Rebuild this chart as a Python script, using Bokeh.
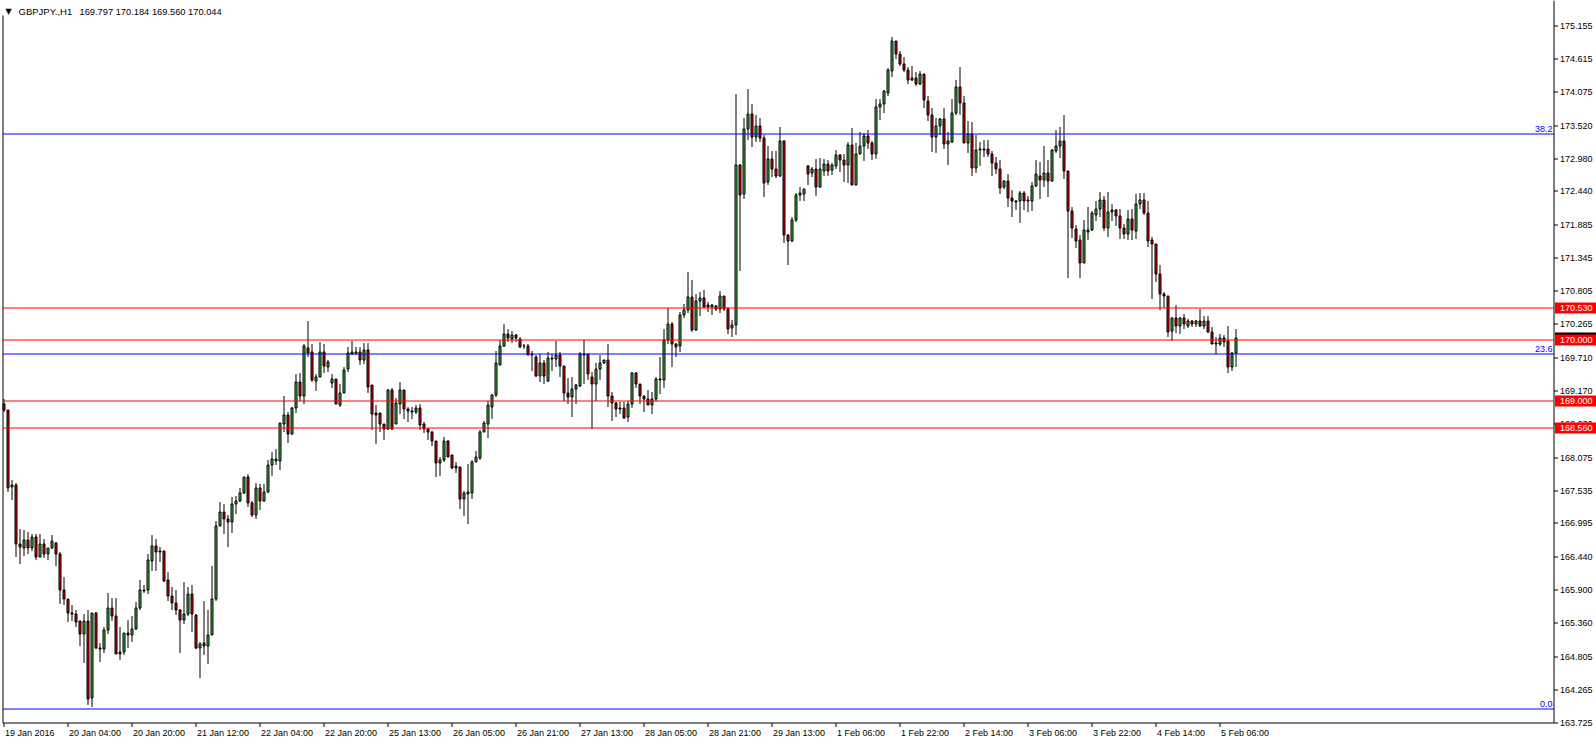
import math
from bokeh.plotting import figure
from bokeh.models import Range1d, ColumnDataSource
from bokeh.core.properties import value
from bokeh.embed import file_html
from bokeh.resources import INLINE

# ---------------- data (GBPJPY H1) ----------------
open_ = [
    168.95, 168.86, 167.60, 167.63, 166.65, 166.59, 166.73, 166.59, 166.78, 166.45,
    166.66, 166.50, 166.59, 166.68, 166.49, 165.91, 165.76, 165.53, 165.51, 165.39,
    165.18, 165.40, 164.13, 165.52, 164.96, 164.94, 165.24, 165.61, 165.48, 164.86,
    164.88, 165.20, 165.16, 165.27, 165.61, 165.91, 165.91, 166.38, 166.62, 166.55,
    166.55, 166.06, 165.81, 165.69, 165.57, 165.41, 165.51, 165.83, 165.50, 164.95,
    165.03, 164.98, 165.17, 165.76, 166.96, 167.19, 167.07, 167.02, 167.32, 167.36,
    167.50, 167.75, 167.33, 167.14, 167.58, 167.37, 167.51, 167.96, 168.02, 168.02,
    168.63, 168.77, 168.46, 168.89, 169.32, 169.09, 169.87, 169.81, 169.33, 169.39,
    169.81, 169.56, 169.30, 169.37, 168.94, 169.14, 169.53, 169.78, 169.79, 169.81,
    169.68, 169.84, 169.26, 168.80, 168.81, 168.62, 168.55, 169.19, 168.63, 168.96,
    169.19, 168.87, 168.84, 168.82, 168.89, 168.62, 168.55, 168.50, 168.35, 167.98,
    168.03, 168.34, 168.11, 167.90, 167.92, 167.39, 167.48, 167.49, 168.00, 168.07,
    168.49, 168.63, 168.91, 169.10, 169.60, 169.90, 170.10, 170.02, 170.09, 170.02,
    169.91, 169.91, 169.77, 169.73, 169.42, 169.62, 169.33, 169.71, 169.69, 169.75,
    169.58, 169.13, 169.07, 169.20, 169.25, 169.76, 169.78, 169.40, 169.29, 169.52,
    169.63, 169.67, 169.08, 168.97, 168.89, 168.89, 168.74, 168.96, 169.46, 169.28,
    169.09, 169.04, 168.94, 169.03, 169.35, 169.35, 170.01, 170.26, 169.94, 169.90,
    170.42, 170.50, 170.71, 170.16, 170.64, 170.70, 170.58, 170.54, 170.56, 170.51,
    170.73, 170.51, 170.20, 170.25, 172.88, 172.39, 173.47, 173.71, 173.34, 173.51,
    173.32, 172.59, 172.98, 172.81, 172.69, 173.27, 171.73, 171.62, 171.97, 172.38,
    172.40, 172.86, 172.75, 172.80, 172.51, 172.77, 172.89, 172.79, 172.86, 173.04,
    172.96, 172.88, 173.20, 172.55, 173.05, 173.18, 173.35, 173.24, 173.06, 173.82,
    173.88, 174.06, 174.42, 174.90, 174.70, 174.53, 174.43, 174.27, 174.30, 174.20,
    174.37, 173.93, 173.69, 173.33, 173.51, 173.63, 173.22, 173.25, 173.72, 174.16,
    173.89, 173.23, 173.38, 172.83, 173.12, 173.14, 173.14, 173.06, 172.91, 172.81,
    172.51, 172.61, 172.34, 172.29, 172.28, 172.42, 172.30, 172.29, 172.53, 172.70,
    172.62, 172.75, 172.61, 173.10, 173.18, 173.26, 172.77, 172.12, 171.83, 171.64,
    171.27, 171.78, 171.80, 172.06, 172.16, 172.30, 171.84, 172.10, 172.14, 172.03,
    171.84, 171.75, 171.99, 171.79, 172.24, 172.30, 172.08, 171.64, 171.58, 171.09,
    170.75, 170.72, 170.15, 170.36, 170.24, 170.36, 170.24, 170.32, 170.27, 170.32,
    170.23, 170.31, 170.13, 169.95, 169.93, 170.04, 169.98, 169.56, 169.797,
]
high = [
    169.04, 168.86, 167.70, 167.66, 166.90, 166.88, 166.85, 166.82, 166.82, 166.82,
    166.74, 166.60, 166.81, 166.69, 166.52, 166.12, 165.76, 165.66, 165.58, 165.40,
    165.51, 165.57, 165.52, 165.54, 165.03, 165.29, 165.85, 165.78, 165.78, 165.29,
    165.20, 165.41, 165.47, 165.70, 166.06, 165.99, 166.50, 166.80, 166.74, 166.61,
    166.55, 166.20, 165.95, 165.90, 165.59, 166.04, 165.95, 165.98, 165.51, 165.05,
    165.73, 165.58, 166.29, 167.03, 167.34, 167.32, 167.13, 167.43, 167.45, 167.58,
    167.76, 167.80, 167.37, 167.66, 167.64, 167.64, 168.04, 168.16, 168.22, 168.645,
    169.08, 168.82, 168.90, 169.45, 169.47, 169.94, 170.32, 169.94, 169.45, 169.97,
    169.94, 169.68, 169.45, 169.37, 169.29, 169.56, 169.89, 169.99, 169.89, 169.89,
    169.95, 169.95, 169.26, 168.93, 168.81, 168.63, 169.20, 169.22, 169.06, 169.32,
    169.19, 168.91, 168.90, 168.93, 168.96, 168.66, 168.56, 168.51, 168.35, 168.09,
    168.42, 168.37, 168.125, 168.00, 167.92, 167.53, 167.97, 168.04, 168.19, 168.52,
    168.68, 169.01, 169.12, 169.83, 170.00, 170.26, 170.19, 170.15, 170.10, 170.05,
    169.94, 169.94, 169.83, 169.75, 169.78, 169.67, 169.80, 169.78, 169.99, 169.80,
    169.58, 169.38, 169.39, 169.28, 169.80, 170.01, 169.78, 169.48, 169.62, 169.75,
    169.68, 169.94, 169.15, 168.98, 168.98, 168.98, 169.01, 169.48, 169.48, 169.29,
    169.09, 169.19, 169.15, 169.39, 169.72, 170.19, 170.53, 170.30, 169.95, 170.46,
    170.60, 171.12, 170.98, 170.75, 170.79, 170.83, 170.62, 170.60, 170.58, 170.80,
    170.73, 170.55, 170.33, 174.04, 172.89, 173.65, 174.12, 173.88, 173.69, 173.64,
    173.36, 173.19, 173.10, 173.10, 173.49, 173.29, 171.745, 172.02, 172.42, 172.51,
    172.48, 172.87, 172.84, 172.97, 172.99, 172.97, 172.96, 172.90, 173.12, 173.06,
    173.06, 173.25, 173.48, 173.23, 173.42, 173.40, 173.45, 173.27, 173.96, 173.96,
    174.11, 174.46, 174.97, 174.90, 174.74, 174.64, 174.48, 174.49, 174.40, 174.41,
    174.37, 174.00, 173.81, 173.65, 173.65, 173.81, 173.41, 173.96, 174.26, 174.48,
    174.01, 173.60, 173.58, 173.36, 173.25, 173.29, 173.28, 173.10, 173.00, 172.96,
    172.63, 172.72, 172.46, 172.30, 172.44, 172.44, 172.36, 172.59, 172.95, 172.93,
    173.18, 172.95, 173.14, 173.44, 173.50, 173.70, 172.77, 172.18, 171.89, 171.73,
    171.97, 172.18, 172.12, 172.29, 172.43, 172.37, 172.43, 172.23, 172.16, 172.16,
    171.90, 172.14, 172.15, 172.39, 172.41, 172.41, 172.29, 171.70, 171.58, 171.24,
    170.79, 170.72, 170.38, 170.58, 170.38, 170.43, 170.35, 170.33, 170.33, 170.51,
    170.39, 170.39, 170.21, 170.06, 170.11, 170.08, 170.23, 169.80, 170.184,
]
low = [
    168.82, 167.51, 167.38, 166.44, 166.33, 166.46, 166.50, 166.55, 166.39, 166.44,
    166.43, 166.40, 166.58, 166.30, 165.68, 165.65, 165.38, 165.39, 165.29, 164.98,
    164.70, 164.01, 163.99, 164.94, 164.72, 164.87, 165.18, 165.39, 164.85, 164.76,
    164.83, 164.96, 165.05, 165.24, 165.58, 165.85, 165.84, 166.22, 166.22, 166.36,
    166.03, 165.73, 165.57, 165.49, 164.87, 165.35, 165.48, 165.21, 164.94, 164.46,
    164.83, 164.69, 165.16, 165.72, 166.95, 166.82, 166.61, 166.84, 167.15, 167.34,
    167.48, 167.26, 167.10, 167.07, 167.21, 167.34, 167.50, 167.78, 167.95, 167.87,
    168.49, 168.31, 168.44, 168.80, 169.01, 168.95, 169.72, 169.31, 169.175, 169.39,
    169.47, 169.48, 169.22, 168.95, 168.90, 169.13, 169.48, 169.75, 169.75, 169.59,
    169.61, 169.13, 168.52, 168.29, 168.49, 168.36, 168.53, 168.52, 168.62, 168.79,
    168.71, 168.66, 168.71, 168.79, 168.53, 168.47, 168.36, 168.27, 167.75, 167.78,
    168.01, 168.08, 167.88, 167.82, 167.23, 167.12, 166.98, 167.40, 167.998, 168.03,
    168.49, 168.39, 168.71, 169.07, 169.59, 169.89, 169.97, 169.95, 169.97, 169.87,
    169.86, 169.75, 169.49, 169.39, 169.31, 169.28, 169.31, 169.50, 169.56, 169.40,
    169.01, 168.96, 168.74, 168.95, 169.24, 169.28, 169.34, 168.55, 169.01, 169.34,
    169.61, 168.90, 168.67, 168.74, 168.79, 168.71, 168.66, 168.89, 169.22, 168.96,
    168.82, 168.93, 168.79, 169.00, 169.12, 169.22, 169.94, 169.56, 169.72, 169.80,
    170.37, 170.45, 170.13, 170.15, 170.40, 170.53, 170.46, 170.42, 170.48, 170.44,
    170.48, 170.10, 170.05, 170.08, 171.13, 172.32, 173.29, 173.17, 173.25, 173.25,
    172.35, 172.54, 172.67, 172.66, 172.67, 171.59, 171.23, 171.61, 171.94, 172.28,
    172.28, 172.54, 172.67, 172.36, 172.50, 172.69, 172.70, 172.71, 172.80, 172.76,
    172.59, 172.58, 172.55, 172.55, 173.05, 172.94, 173.13, 172.96, 172.97, 173.61,
    173.72, 174.01, 174.31, 174.62, 174.50, 174.40, 174.21, 174.25, 174.17, 174.19,
    173.81, 173.60, 173.08, 173.07, 173.36, 173.14, 172.88, 173.23, 173.70, 173.70,
    173.23, 173.07, 172.69, 172.74, 172.85, 173.00, 173.01, 172.70, 172.73, 172.40,
    172.48, 172.18, 172.02, 172.14, 171.92, 172.14, 172.10, 172.12, 172.51, 172.32,
    172.51, 172.35, 172.59, 173.07, 172.99, 172.65, 171.02, 171.68, 171.52, 171.02,
    171.26, 171.64, 171.79, 171.96, 172.02, 171.79, 171.70, 171.96, 171.88, 171.66,
    171.66, 171.65, 171.65, 171.66, 172.16, 172.05, 171.53, 170.68, 170.95, 170.50,
    170.53, 170.05, 169.99, 170.12, 170.10, 170.19, 170.20, 170.21, 170.21, 170.21,
    170.19, 170.12, 169.93, 169.78, 169.91, 169.89, 169.46, 169.50, 169.560,
]
close = [
    168.86, 167.58, 167.63, 166.66, 166.61, 166.73, 166.59, 166.78, 166.45, 166.66,
    166.50, 166.59, 166.70, 166.49, 165.91, 165.76, 165.53, 165.51, 165.375, 165.18,
    165.40, 164.12, 165.52, 164.95, 164.94, 165.24, 165.61, 165.48, 164.86, 164.89,
    165.20, 165.16, 165.27, 165.61, 165.91, 165.88, 166.39, 166.62, 166.52, 166.52,
    166.05, 165.81, 165.69, 165.57, 165.41, 165.51, 165.83, 165.51, 164.95, 165.02,
    164.98, 165.17, 165.76, 166.96, 167.19, 167.07, 167.02, 167.32, 167.36, 167.50,
    167.75, 167.33, 167.14, 167.58, 167.37, 167.51, 167.96, 168.05, 168.05, 168.645,
    168.77, 168.46, 168.89, 169.32, 169.09, 169.90, 169.79, 169.34, 169.40, 169.81,
    169.57, 169.65, 169.37, 168.96, 169.14, 169.51, 169.79, 169.80, 169.81, 169.68,
    169.84, 169.23, 168.79, 168.78, 168.62, 168.55, 169.19, 168.55, 168.97, 169.19,
    168.87, 168.84, 168.82, 168.89, 168.61, 168.55, 168.49, 168.35, 167.98, 168.03,
    168.34, 168.09, 167.90, 167.93, 167.39, 167.49, 167.51, 168.01, 168.08, 168.50,
    168.64, 168.93, 169.10, 169.62, 169.91, 170.10, 170.03, 170.09, 170.03, 169.89,
    169.90, 169.76, 169.75, 169.42, 169.62, 169.42, 169.71, 169.69, 169.75, 169.57,
    169.13, 169.07, 169.20, 169.26, 169.78, 169.78, 169.44, 169.28, 169.53, 169.63,
    169.67, 169.08, 168.97, 168.87, 168.87, 168.73, 168.96, 169.46, 169.28, 169.08,
    169.04, 168.94, 169.04, 169.37, 169.36, 170.01, 170.26, 169.94, 169.89, 170.42,
    170.50, 170.71, 170.17, 170.65, 170.70, 170.55, 170.54, 170.57, 170.51, 170.73,
    170.51, 170.19, 170.25, 172.88, 172.38, 173.47, 173.71, 173.33, 173.51, 173.31,
    172.58, 172.98, 172.81, 172.69, 173.27, 171.73, 171.62, 171.97, 172.38, 172.41,
    172.48, 172.73, 172.81, 172.51, 172.80, 172.89, 172.78, 172.88, 173.04, 172.96,
    172.88, 173.20, 172.55, 173.06, 173.19, 173.35, 173.24, 173.06, 173.83, 173.88,
    174.08, 174.44, 174.90, 174.70, 174.53, 174.43, 174.27, 174.30, 174.20, 174.37,
    173.94, 173.69, 173.33, 173.52, 173.63, 173.22, 173.27, 173.72, 174.16, 173.89,
    173.23, 173.38, 172.83, 173.12, 173.14, 173.12, 173.06, 172.91, 172.81, 172.50,
    172.61, 172.34, 172.28, 172.27, 172.42, 172.28, 172.28, 172.53, 172.72, 172.62,
    172.75, 172.61, 173.12, 173.19, 173.26, 172.77, 172.12, 171.84, 171.62, 171.27,
    171.80, 171.81, 172.08, 172.16, 172.30, 171.84, 172.11, 172.14, 172.04, 171.84,
    171.75, 171.99, 171.80, 172.24, 172.30, 172.08, 171.62, 171.58, 171.09, 170.75,
    170.72, 170.13, 170.36, 170.24, 170.36, 170.26, 170.32, 170.27, 170.32, 170.23,
    170.32, 170.13, 169.94, 169.93, 170.04, 169.97, 169.56, 169.79, 170.044,
]

time_label_bars = [0, 16, 32, 48, 64, 80, 96, 112, 128, 144,
                   160, 176, 192, 208, 224, 240, 256, 272, 288, 304]
time_labels = ["19 Jan 2016", "20 Jan 04:00", "20 Jan 20:00", "21 Jan 12:00", "22 Jan 04:00",
               "22 Jan 20:00", "25 Jan 13:00", "26 Jan 05:00", "26 Jan 21:00", "27 Jan 13:00",
               "28 Jan 05:00", "28 Jan 21:00", "29 Jan 13:00", "1 Feb 06:00", "1 Feb 22:00",
               "2 Feb 14:00", "3 Feb 06:00", "3 Feb 22:00", "4 Feb 14:00", "5 Feb 06:00"]

price_ticks = [175.155, 174.615, 174.075, 173.520, 172.980, 172.440, 171.885, 171.345,
               170.805, 170.265, 169.710, 169.170, 168.630, 168.075, 167.535, 166.995,
               166.440, 165.900, 165.360, 164.805, 164.265, 163.725]

red_levels = [170.530, 170.000, 169.000, 168.560]
fib_levels = [173.385, 169.776, 163.955]
fib_names = ["38.2", "23.6", "0.0"]
bid_price = 170.044
title_symbol = "GBPJPY.,H1"
title_ohlc = "169.797 170.184 169.560 170.044"

# ---------------- layout: canvas pixels <-> data ----------------
W, H = 1596, 744
FONT = value("Liberation Sans")
FS = value("9px")
BULL = "#38BE38"
BEAR = "#E60000"
PPX = 4.0                      # pixels per bar
PPY = 60.97                    # pixels per yen
X0 = -0.875                    # data x at canvas x = 0  (bar i centred at 3.5 + 4 i)
REF_P, REF_Y = 170.53, 307.4   # a price and its canvas y
CH_L, CH_R, CH_B = 2.5, 1553.5, 722.5   # chart area edges (canvas px)


def dx(cx):
    return X0 + cx / PPX


def py(p):
    return REF_Y + (REF_P - p) * PPY


def dy(cy):
    return REF_P - (cy - REF_Y) / PPY


def snap(p):
    # put a horizontal edge on a pixel centre (crisp 1px lines)
    return dy(math.floor(py(p)) + 0.5)


p = figure(width=W, height=H, x_range=Range1d(X0, X0 + W / PPX), y_range=Range1d(dy(H), dy(0)),
           x_axis_type=None, y_axis_type=None, output_backend="svg", toolbar_location=None,
           min_border=0, background_fill_color="white", border_fill_color="white")
p.outline_line_color = None
p.grid.visible = False

idx = list(range(len(open_)))
src = ColumnDataSource(dict(
    x=idx,
    top=[snap(max(o, c)) for o, c in zip(open_, close)],
    bottom=[snap(min(o, c)) for o, c in zip(open_, close)],
    high=[snap(v) for v in high], low=[snap(v) for v in low],
    color=[BULL if c >= o else BEAR for o, c in zip(open_, close)],
))

# chart area borders: left, bottom, right (price-scale line)
p.segment(x0=[dx(CH_L), dx(CH_L), dx(CH_R)], x1=[dx(CH_L), dx(CH_R), dx(CH_R)],
          y0=[dy(15), dy(CH_B), dy(0)], y1=[dy(CH_B), dy(CH_B), dy(CH_B)],
          line_color="black", line_width=1)

# candles
p.segment(x0="x", y0="low", x1="x", y1="high", source=src, line_color="black", line_width=1)
p.vbar(x="x", top="top", bottom="bottom", width=0.5, source=src,
       fill_color="color", line_color="black", line_width=1)

# horizontal levels (over the candles)
n_r = len(red_levels)
p.segment(x0=[dx(CH_L)] * n_r, x1=[dx(CH_R)] * n_r, y0=[snap(v) for v in red_levels],
          y1=[snap(v) for v in red_levels], line_color="#FF0000", line_width=1)
n_f = len(fib_levels)
p.segment(x0=[dx(CH_L)] * n_f, x1=[dx(CH_R)] * n_f, y0=[snap(v) for v in fib_levels],
          y1=[snap(v) for v in fib_levels], line_color="#0000FF", line_width=1)
p.text(x=[dx(CH_R - 1.5)] * n_f, y=fib_levels, text=fib_names, text_align="right",
       text_baseline="bottom", y_offset=-2, text_font=FONT, text_font_size=FS, text_color="#0000FF")

# price scale
n_t = len(price_ticks)
p.segment(x0=[dx(CH_R)] * n_t, x1=[dx(CH_R + 4)] * n_t, y0=[snap(v) for v in price_ticks],
          y1=[snap(v) for v in price_ticks], line_color="black", line_width=1)
p.text(x=[dx(CH_R + 6)] * n_t, y=price_ticks, text=["%.3f" % t for t in price_ticks],
       text_align="left", text_baseline="middle", text_font=FONT, text_font_size=FS, text_color="black")

# bid label (mostly hidden under 170.000), then red level labels
for vals, col in (([bid_price], "black"), (red_levels, "#FF0000")):
    n = len(vals)
    p.quad(left=[dx(CH_R + 1)] * n, right=[dx(W)] * n,
           top=[dy(math.floor(py(v)) - 5) for v in vals], bottom=[dy(math.floor(py(v)) + 6) for v in vals],
           fill_color=col, line_color=None)
    p.text(x=[dx(CH_R + 6)] * n, y=vals, text=["%.3f" % v for v in vals],
           text_align="left", text_baseline="middle", text_font=FONT, text_font_size=FS, text_color="white")

# time scale
n_x = len(time_label_bars)
p.segment(x0=time_label_bars, x1=time_label_bars, y0=[dy(CH_B)] * n_x, y1=[dy(CH_B + 4)] * n_x,
          line_color="black", line_width=1)
p.text(x=time_label_bars, y=[dy(CH_B + 10)] * n_x, text=time_labels, x_offset=1,
       text_align="left", text_baseline="middle", text_font=FONT, text_font_size=FS, text_color="black")

# title: triangle, symbol/period, last bar OHLC
p.text(x=[dx(5)], y=[dy(11)], text=["\u25BC"], text_align="left", text_baseline="middle",
       text_font=value("DejaVu Sans"), text_font_size=value("8px"), text_color="black")
p.text(x=[dx(18)], y=[dy(11)], text=[title_symbol], text_align="left", text_baseline="middle",
       text_font=FONT, text_font_size=value("9.5px"), text_color="black")
p.text(x=[dx(79)], y=[dy(11)], text=[title_ohlc], text_align="left", text_baseline="middle",
       text_font=FONT, text_font_size=value("9.3px"), text_color="black")

open("out.html", "w").write(file_html(p, INLINE))
